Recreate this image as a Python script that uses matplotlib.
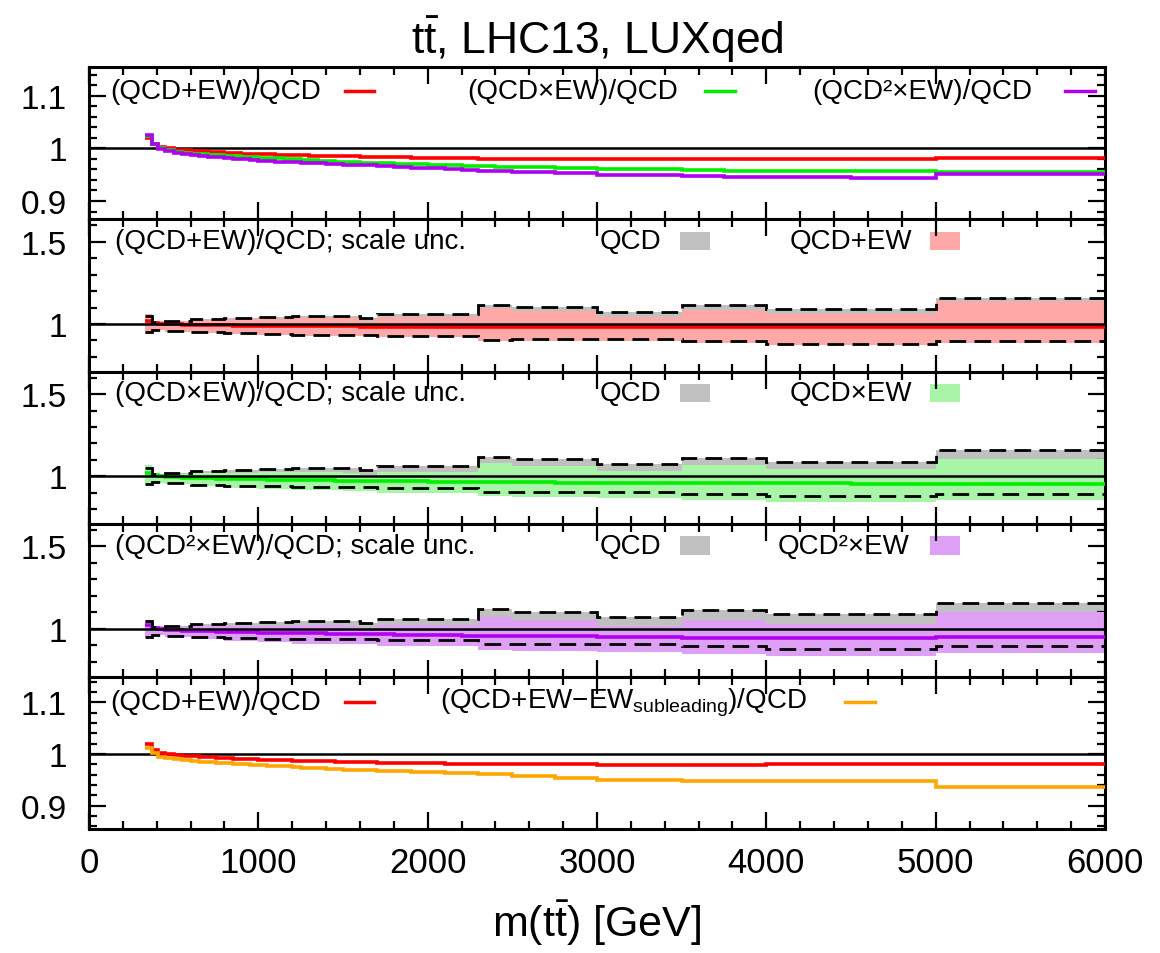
# Ratio plots for ttbar invariant mass at LHC13 with LUXqed photon PDF

import matplotlib.pyplot as plt
from matplotlib.patches import Rectangle
from matplotlib.ticker import MultipleLocator, FuncFormatter

plt.rcParams['font.family'] = ['Liberation Sans', 'DejaVu Sans']
plt.rcParams['mathtext.fontset'] = 'custom'
plt.rcParams['mathtext.rm'] = 'Liberation Sans'
plt.rcParams['mathtext.it'] = 'Liberation Sans:italic'

# fine binning of m(tt) used for the central ratios
edges = [330, 370, 410, 450, 500, 550, 600, 650, 700, 750, 800, 850, 900, 950,
         1000, 1050, 1100, 1150, 1200, 1250, 1300, 1350, 1400, 1450, 1500,
         1600, 1700, 1800, 1900, 2000, 2100, 2200, 2300, 2400, 2500,
         2750, 3000, 3250, 3500, 3750, 4000, 4500, 5000, 6000]

ratio_add = [1.020, 1.008, 1.003, 1.000, 0.998, 0.997, 0.996, 0.995, 0.994, 0.993,
             0.992, 0.991, 0.990, 0.990, 0.989, 0.989, 0.988, 0.988, 0.987, 0.987,
             0.986, 0.986, 0.986, 0.985, 0.985, 0.984, 0.983, 0.983, 0.982, 0.982,
             0.981, 0.981, 0.980, 0.980, 0.980, 0.980, 0.979, 0.979, 0.979, 0.979,
             0.980, 0.980, 0.981]
ratio_mult = [1.023, 1.008, 1.001, 0.997, 0.994, 0.992, 0.990, 0.989, 0.988, 0.987,
              0.986, 0.985, 0.984, 0.983, 0.982, 0.981, 0.981, 0.980, 0.979, 0.978,
              0.978, 0.977, 0.976, 0.975, 0.974, 0.973, 0.972, 0.971, 0.970, 0.969,
              0.968, 0.967, 0.966, 0.965, 0.964, 0.963, 0.961, 0.960, 0.959, 0.958,
              0.958, 0.957, 0.956]
ratio_qcd2 = [1.026, 1.008, 0.999, 0.995, 0.992, 0.989, 0.987, 0.985, 0.984, 0.983,
              0.981, 0.980, 0.979, 0.978, 0.977, 0.976, 0.975, 0.975, 0.974, 0.973,
              0.972, 0.972, 0.971, 0.970, 0.969, 0.968, 0.966, 0.965, 0.963, 0.962,
              0.961, 0.959, 0.958, 0.957, 0.955, 0.954, 0.950, 0.949, 0.947, 0.946,
              0.945, 0.944, 0.952]
ratio_nosub = [1.011, 1.003, 0.995, 0.992, 0.990, 0.988, 0.986, 0.985, 0.984, 0.983,
               0.982, 0.981, 0.980, 0.979, 0.978, 0.977, 0.977, 0.976, 0.975, 0.974,
               0.974, 0.973, 0.972, 0.971, 0.970, 0.969, 0.968, 0.967, 0.966, 0.965,
               0.964, 0.963, 0.962, 0.961, 0.957, 0.954, 0.950, 0.950, 0.947, 0.947,
               0.947, 0.947, 0.936]

# coarser binning for the scale uncertainty bands
band_edges = [330, 370, 450, 600, 800, 1000, 1200, 1500, 1600, 1700, 2300, 2500,
              3000, 3500, 4000, 5000, 6000]
qcd_up = [1.050, 1.012, 1.020, 1.030, 1.038, 1.044, 1.050, 1.050, 1.037, 1.062,
          1.118, 1.104, 1.073, 1.114, 1.090, 1.159]
qcd_dn = [0.951, 0.965, 0.958, 0.950, 0.944, 0.940, 0.936, 0.936, 0.936, 0.930,
          0.905, 0.907, 0.907, 0.896, 0.880, 0.896]
add_up = [1.063, 1.017, 1.018, 1.025, 1.029, 1.033, 1.035, 1.034, 1.020, 1.043,
          1.096, 1.077, 1.040, 1.083, 1.063, 1.138]
add_dn = [0.940, 0.962, 0.954, 0.945, 0.938, 0.933, 0.928, 0.928, 0.927, 0.921,
          0.899, 0.896, 0.896, 0.886, 0.874, 0.886]
mult_up = [1.067, 1.016, 1.015, 1.019, 1.022, 1.024, 1.026, 1.023, 1.009, 1.029,
           1.079, 1.064, 1.030, 1.067, 1.043, 1.108]
mult_dn = [0.945, 0.963, 0.951, 0.940, 0.930, 0.922, 0.915, 0.912, 0.911, 0.901,
           0.880, 0.878, 0.871, 0.858, 0.842, 0.857]
qcd2_up = [1.055, 1.015, 1.012, 1.015, 1.017, 1.019, 1.021, 1.017, 1.004, 1.023,
           1.070, 1.054, 1.018, 1.054, 1.030, 1.103]
qcd2_dn = [0.950, 0.962, 0.950, 0.936, 0.925, 0.917, 0.910, 0.907, 0.906, 0.896,
           0.872, 0.868, 0.861, 0.848, 0.832, 0.853]

RED = '#ff0000'
GREEN = '#00ee00'
PURPLE = '#b000f0'
ORANGE = '#ffa500'
GRAY = '#c0c0c0'
PINK = '#ffa8a8'
LGREEN = '#a8f5a8'
LVIOLET = '#dda0f5'

fig = plt.figure(figsize=(11.6, 9.54), dpi=100)
W, H = 1160.0, 954.0
left, right = 89 / W, 1105 / W
top_px, bot_px = 68, 830
ph = (bot_px - top_px) / 5.0
axes = []
for i in range(5):
    y0 = 1 - (top_px + (i + 1) * ph) / H
    axes.append(fig.add_axes([left, y0, right - left, ph / H]))


def style(ax, ylim, major, minor):
    ax.set_xlim(0, 6000)
    ax.set_ylim(*ylim)
    ax.xaxis.set_major_locator(MultipleLocator(1000))
    ax.xaxis.set_minor_locator(MultipleLocator(200))
    ax.yaxis.set_major_locator(MultipleLocator(major))
    ax.yaxis.set_minor_locator(MultipleLocator(minor))
    ax.yaxis.set_major_formatter(FuncFormatter(lambda v, p: f'{v:g}'))
    ax.tick_params(which='both', direction='in', top=True, right=True, width=1.6)
    ax.tick_params(which='major', length=12, labelsize=24, pad=16)
    ax.tick_params(which='minor', length=6)
    ax.tick_params(axis='x', labelbottom=False)
    for s in ax.spines.values():
        s.set_linewidth(2.2)
    ax.axhline(1, color='k', lw=1.8, zorder=4)


def key_line(ax, x0, x1, y, color):
    ax.plot([x0, x1], [y, y], transform=ax.transAxes, color=color, lw=2.5,
            clip_on=False)


def key_box(ax, x0, x1, y0, y1, color):
    ax.add_patch(Rectangle((x0, y0), x1 - x0, y1 - y0, transform=ax.transAxes,
                           color=color, lw=0))


def label(ax, x, y, s):
    ax.text(x, y, s, transform=ax.transAxes, fontsize=20, va='center', ha='left')


# panel 1: the three combinations
ax = axes[0]
style(ax, (0.865, 1.155), 0.1, 0.02)
ax.stairs(ratio_add, edges, baseline=None, color=RED, lw=2.6, zorder=5)
ax.stairs(ratio_mult, edges, baseline=None, color=GREEN, lw=2.6, zorder=5)
ax.stairs(ratio_qcd2, edges, baseline=None, color=PURPLE, lw=2.6, zorder=5)
label(ax, 0.021, 0.84, '(QCD+EW)/QCD')
key_line(ax, 0.252, 0.281, 0.84, RED)
label(ax, 0.372, 0.84, '(QCD\u00d7EW)/QCD')
key_line(ax, 0.606, 0.636, 0.84, GREEN)
label(ax, 0.712, 0.84, '(QCD\u00b2\u00d7EW)/QCD')
key_line(ax, 0.961, 0.990, 0.84, PURPLE)

# panels 2-4: scale uncertainty bands
band_panels = [
    (axes[1], ratio_add, add_up, add_dn, RED, PINK,
     '(QCD+EW)/QCD; scale unc.', 'QCD+EW', 0.690),
    (axes[2], ratio_mult, mult_up, mult_dn, GREEN, LGREEN,
     '(QCD\u00d7EW)/QCD; scale unc.', 'QCD\u00d7EW', 0.690),
    (axes[3], ratio_qcd2, qcd2_up, qcd2_dn, PURPLE, LVIOLET,
     '(QCD\u00b2\u00d7EW)/QCD; scale unc.', 'QCD\u00b2\u00d7EW', 0.678),
]
for ax, central, up, dn, lc, fc, title, name, xname in band_panels:
    style(ax, (0.71, 1.635), 0.5, 0.1)
    ax.stairs(qcd_up, band_edges, baseline=qcd_dn, fill=True, color=GRAY, lw=0, zorder=1)
    ax.stairs(up, band_edges, baseline=dn, fill=True, color=fc, lw=0, zorder=2)
    ax.stairs(central, edges, baseline=None, color=lc, lw=2.6, zorder=3)
    ax.stairs(qcd_up, band_edges, baseline=None, color='k', lw=2, ls=(0, (6, 3)), zorder=6)
    ax.stairs(qcd_dn, band_edges, baseline=None, color='k', lw=2, ls=(0, (6, 3)), zorder=6)
    label(ax, 0.026, 0.86, title)
    label(ax, 0.503, 0.86, 'QCD')
    key_box(ax, 0.582, 0.611, 0.80, 0.92, GRAY)
    label(ax, xname, 0.86, name)
    key_box(ax, 0.828, 0.857, 0.80, 0.92, fc)

# panel 5: effect of dropping the subleading EW terms
ax = axes[4]
style(ax, (0.855, 1.15), 0.1, 0.02)
ax.stairs(ratio_add, edges, baseline=None, color=RED, lw=2.6, zorder=5)
ax.stairs(ratio_nosub, edges, baseline=None, color=ORANGE, lw=2.6, zorder=5)
label(ax, 0.021, 0.835, '(QCD+EW)/QCD')
key_line(ax, 0.252, 0.281, 0.835, RED)
label(ax, 0.345, 0.835, r'(QCD+EW$-$EW$_{\mathrm{subleading}}$)/QCD')
key_line(ax, 0.744, 0.774, 0.835, ORANGE)
ax.tick_params(axis='x', labelbottom=True, labelsize=25, pad=12)
ax.set_xlabel(r'm($\mathrm{t\bar{t}}$) [GeV]', fontsize=31, labelpad=14)

axes[0].set_title(r'$\mathrm{t\bar{t}}$, LHC13, LUXqed', fontsize=32, pad=10)

fig.savefig('out.png', dpi=100)
